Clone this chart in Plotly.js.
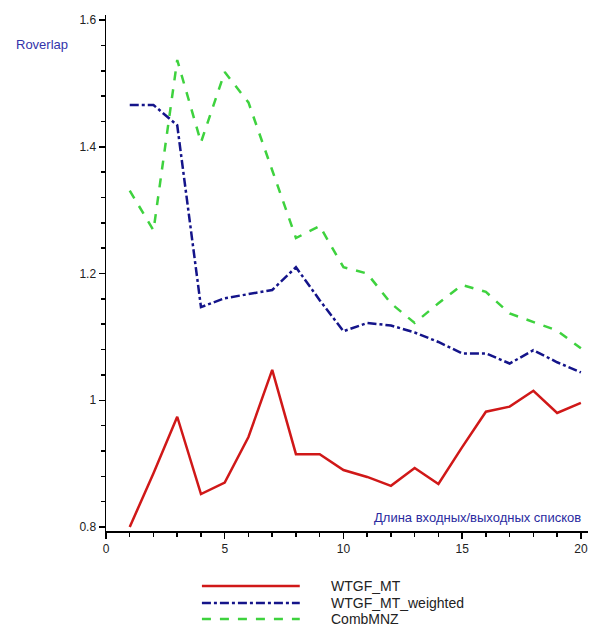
<!DOCTYPE html>
<html><head><meta charset="utf-8">
<script src="https://cdn.plot.ly/plotly-3.0.1.min.js"></script>
<style>html,body{margin:0;padding:0;background:#fff}</style>
</head><body>
<div id="chart" style="width:591px;height:630px"></div>
<script>
var xs = [1,2,3,4,5,6,7,8,9,10,11,12,13,14,15,16,17,18,19,20];
var wtgf = [0.800,0.885,0.974,0.852,0.870,0.942,1.048,0.915,0.915,0.890,0.879,0.865,0.893,0.868,0.926,0.982,0.990,1.015,0.980,0.996];
var wtgfWeighted = [1.466,1.466,1.434,1.147,1.161,1.167,1.174,1.210,1.158,1.109,1.122,1.118,1.107,1.092,1.074,1.074,1.058,1.079,1.060,1.044];
var combMNZ = [1.331,1.268,1.537,1.407,1.518,1.470,1.363,1.256,1.275,1.210,1.200,1.153,1.122,1.153,1.182,1.171,1.137,1.123,1.110,1.082];
var seriesNames = ['WTGF_MT','WTGF_MT_weighted','CombMNZ'];
var colors = ['#d01818','#14148a','#3ed23e'];
var dashes = ['solid','dashdot','dash'];

var data = [wtgf, wtgfWeighted, combMNZ].map(function(v,i){
  return {x: xs, y: v, type:'scatter', mode:'lines', name: seriesNames[i],
    line:{color:colors[i], width:2.5, dash:dashes[i]}, showlegend:false};
});

var font = {family:'Liberation Sans, Arial, sans-serif', size:12, color:'#222'};
var shapes = [], annotations = [];
var legY = [-0.1066,-0.1395,-0.1705];
for (var i=0;i<3;i++){
  shapes.push({type:'line', xref:'paper', yref:'paper', x0:0.199, x1:0.402, y0:legY[i], y1:legY[i],
    line:{color:colors[i], width:2.5, dash:dashes[i]}});
  annotations.push({xref:'paper', yref:'paper', x:0.462, y:legY[i], xanchor:'left', yanchor:'middle',
    text: seriesNames[i], showarrow:false, font:{family:'Liberation Sans, Arial, sans-serif', size:14, color:'#222'}});
}
annotations.push({xref:'paper', yref:'paper', x:-0.191, y:0.942, xanchor:'left', yanchor:'middle',
  text:'Roverlap', showarrow:false, font:{family:'Liberation Sans, Arial, sans-serif', size:13, color:'#3333aa'}});
annotations.push({xref:'paper', yref:'paper', x:0.99, y:0.027, xanchor:'right', yanchor:'middle',
  text:'Длина входных/выходных списков', showarrow:false, font:{family:'Liberation Sans, Arial, sans-serif', size:13, color:'#2a2aa0'}});

var layout = {
  width:591, height:630,
  margin:{l:106, r:3, t:15, b:99},
  paper_bgcolor:'#fff', plot_bgcolor:'#fff',
  font: font,
  showlegend:false,
  xaxis:{range:[0,20.3], tickmode:'linear', tick0:0, dtick:5, ticks:'outside', ticklen:6, tickcolor:'#000', tickwidth:1.5,
    showline:true, linecolor:'#000', linewidth:1.5, showgrid:false, zeroline:false,
    minor:{tickmode:'linear', dtick:1, tick0:0, ticks:'outside', ticklen:4, tickcolor:'#000', tickwidth:1.5, showgrid:false}, tickfont:font},
  yaxis:{range:[0.7937,1.608], tickmode:'linear', tick0:0.8, dtick:0.2, ticks:'outside', ticklen:6, tickcolor:'#000', tickwidth:1.5,
    showline:true, linecolor:'#000', linewidth:1.5, showgrid:false, zeroline:false,
    minor:{tickmode:'linear', dtick:0.04, tick0:0.8, ticks:'outside', ticklen:4, tickcolor:'#000', tickwidth:1.5, showgrid:false}, tickfont:font},
  shapes: shapes, annotations: annotations
};
Plotly.newPlot('chart', data, layout, {displayModeBar:false, staticPlot:true});
</script>
</body></html>
